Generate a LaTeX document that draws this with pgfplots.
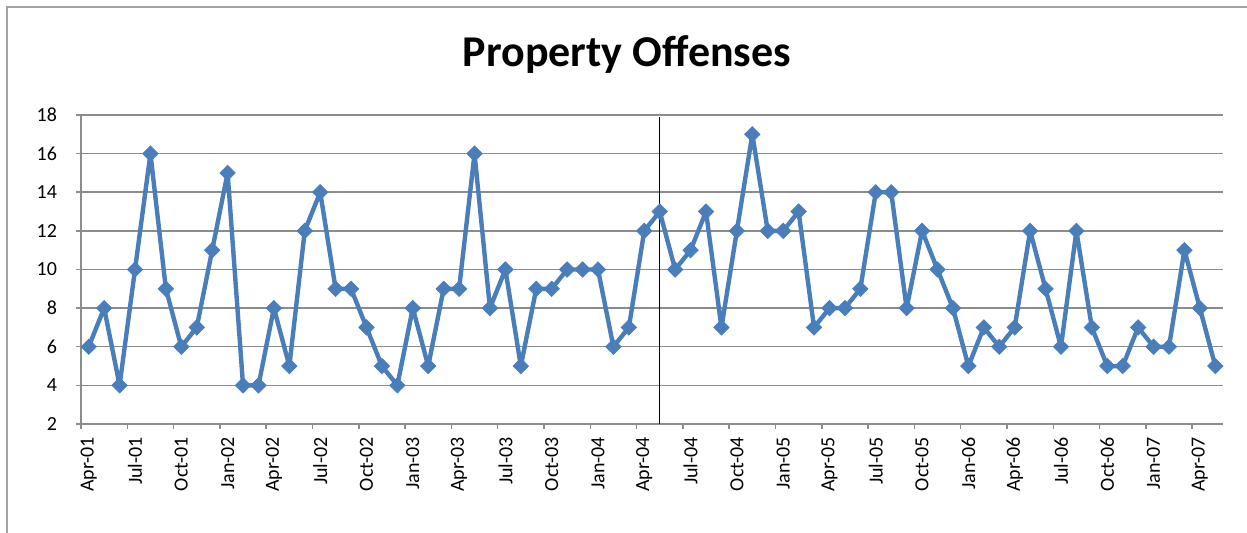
\documentclass[border=0pt]{standalone}
\usepackage{fontspec}
\setmainfont{Carlito}
\usepackage{pgfplots}
\pgfplotsset{compat=1.18}
\definecolor{xlblue}{HTML}{4A7EBB}
\definecolor{xlgrid}{HTML}{8C8C8C}
\begin{document}
\begin{tikzpicture}[x=1pt,y=1pt]
\useasboundingbox (0,0) rectangle (623.5,266.5);
\draw[color=xlgrid!80, line width=0.8pt] (3.5,0) -- (3.5,263) -- (623.5,263);
\node[anchor=base, font=\bfseries\fontsize{22}{26}\selectfont] at (313.5,233) {Property Offenses};
\begin{axis}[
  at={(40.5pt,54.5pt)}, anchor=south west,
  scale only axis, width=571pt, height=154.5pt,
  xmin=-0.5, xmax=73.5, ymin=2, ymax=18,
  axis x line*=bottom, axis y line*=left,
  axis line style={color=xlgrid, line width=0.75pt},
  ytick={2,4,...,18},
  ymajorgrids, major grid style={color=xlgrid, line width=0.75pt},
  xtick={0,3,...,72},
  xticklabels={Apr-01,Jul-01,Oct-01,Jan-02,Apr-02,Jul-02,Oct-02,Jan-03,Apr-03,Jul-03,Oct-03,Jan-04,Apr-04,Jul-04,Oct-04,Jan-05,Apr-05,Jul-05,Oct-05,Jan-06,Apr-06,Jul-06,Oct-06,Jan-07,Apr-07},
  minor xtick={-0.5,2.5,...,71.5},
  tick align=outside,
  major x tick style={draw=none},
  minor x tick style={color=xlgrid, line width=0.75pt},
  major y tick style={color=xlgrid, line width=0.75pt},
  major tick length=2.5pt, minor tick length=2.5pt,
  ticklabel style={font=\fontsize{10}{12}\selectfont, text=black},
  xticklabel style={rotate=90, anchor=east, xshift=-0.5pt},
  yticklabel style={xshift=-6pt},
  /pgf/number format/assume math mode=true,
  clip=false,
]
\addplot[color=xlblue, line width=2.2pt, line join=round, mark=square*, mark size=2.7pt,
  mark options={rotate=45, fill=xlblue, draw=xlblue, line width=0.4pt, line join=miter}] coordinates {
(0,6)(1,8)(2,4)(3,10)(4,16)(5,9)(6,6)(7,7)(8,11)(9,15)(10,4)(11,4)(12,8)(13,5)(14,12)(15,14)(16,9)(17,9)(18,7)(19,5)(20,4)(21,8)(22,5)(23,9)(24,9)(25,16)(26,8)(27,10)(28,5)(29,9)(30,9)(31,10)(32,10)(33,10)(34,6)(35,7)(36,12)(37,13)(38,10)(39,11)(40,13)(41,7)(42,12)(43,17)(44,12)(45,12)(46,13)(47,7)(48,8)(49,8)(50,9)(51,14)(52,14)(53,8)(54,12)(55,10)(56,8)(57,5)(58,7)(59,6)(60,7)(61,12)(62,9)(63,6)(64,12)(65,7)(66,5)(67,5)(68,7)(69,6)(70,6)(71,11)(72,8)(73,5)
};
\addplot[black, line width=0.6pt, mark=none] coordinates {(37,2)(37,17.9)};
\end{axis}
\end{tikzpicture}
\end{document}
